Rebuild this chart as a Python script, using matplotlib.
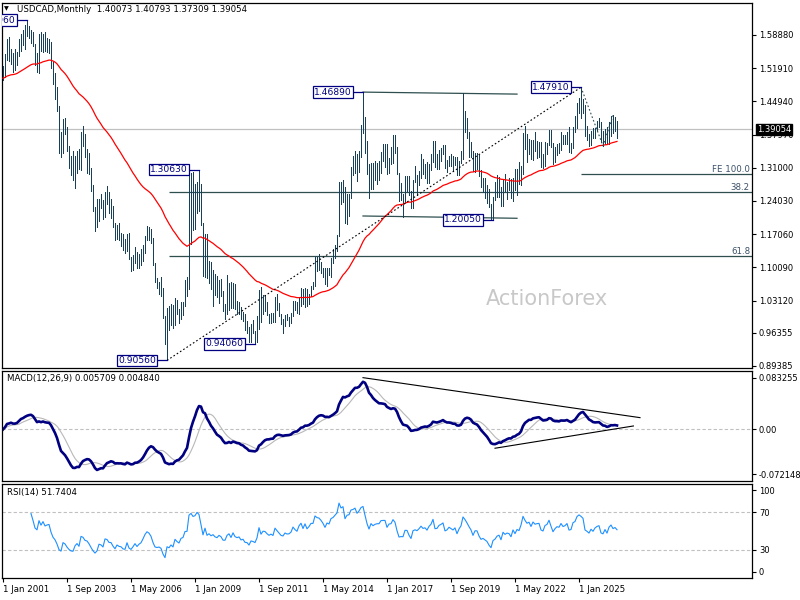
import numpy as np
import pandas as pd
import matplotlib
matplotlib.use("Agg")
import matplotlib.pyplot as plt
import matplotlib.transforms as mtransforms

plt.rcParams['font.family'] = ['DejaVu Sans']
plt.rcParams['font.size'] = 6.2

# USDCAD monthly bars, Jan 2001 onwards (one row per year)
high = [
    1.5230, 1.5480, 1.5800, 1.5850, 1.5590, 1.5500, 1.5600, 1.5530, 1.5800, 1.5900, 1.6000, 1.6100,
    1.6196, 1.6080, 1.6000, 1.5960, 1.5700, 1.5500, 1.5900, 1.5950, 1.5900, 1.5950, 1.5830, 1.5800,
    1.5750, 1.5320, 1.5100, 1.4800, 1.4400, 1.3850, 1.4130, 1.4150, 1.3950, 1.3560, 1.3350, 1.3450,
    1.3350, 1.3450, 1.3500, 1.3860, 1.3970, 1.3800, 1.3500, 1.3400, 1.3100, 1.2730, 1.2280, 1.2440,
    1.2450, 1.2560, 1.2430, 1.2600, 1.2720, 1.2600, 1.2450, 1.2300, 1.1950, 1.1900, 1.1950, 1.1730,
    1.1710, 1.1600, 1.1720, 1.1730, 1.1230, 1.1260, 1.1440, 1.1340, 1.1280, 1.1390, 1.1480, 1.1660,
    1.1880, 1.1850, 1.1820, 1.1620, 1.1100, 1.0780, 1.0700, 1.0800, 1.0580, 0.9990, 1.0150, 1.0190,
    1.0250, 1.0210, 1.0370, 1.0320, 1.0130, 1.0280, 1.0280, 1.0740, 1.0800, 1.2940, 1.2990, 1.3020,
    1.2750, 1.2800, 1.3063, 1.2750, 1.1950, 1.1720, 1.1710, 1.1140, 1.1120, 1.0950, 1.0860, 1.0830,
    1.0740, 1.0760, 1.0520, 1.0250, 1.0850, 1.0680, 1.0700, 1.0690, 1.0670, 1.0300, 1.0280, 1.0170,
    1.0070, 1.0030, 0.9880, 0.9750, 0.9820, 0.9900, 0.9680, 0.9990, 1.0530, 1.0600, 1.0430, 1.0420,
    1.0290, 1.0040, 1.0050, 1.0050, 1.0380, 1.0450, 1.0260, 1.0030, 0.9930, 1.0010, 1.0040, 0.9970,
    1.0060, 1.0300, 1.0300, 1.0280, 1.0390, 1.0580, 1.0550, 1.0580, 1.0560, 1.0460, 1.0620, 1.0700,
    1.1220, 1.1220, 1.1280, 1.1130, 1.1000, 1.0990, 1.0990, 1.0990, 1.1210, 1.1390, 1.1470, 1.1680,
    1.2800, 1.2800, 1.2840, 1.2700, 1.2560, 1.2560, 1.3110, 1.3350, 1.3450, 1.3380, 1.3450, 1.4000,
    1.4689, 1.4160, 1.3660, 1.3180, 1.3190, 1.3200, 1.3250, 1.3190, 1.3250, 1.3430, 1.3590, 1.3600,
    1.3600, 1.3310, 1.3530, 1.3790, 1.3790, 1.3540, 1.3000, 1.2780, 1.2560, 1.2920, 1.2920, 1.2920,
    1.2620, 1.2850, 1.3130, 1.2950, 1.3030, 1.3390, 1.3280, 1.3170, 1.3230, 1.3170, 1.3380, 1.3660,
    1.3660, 1.3380, 1.3470, 1.3520, 1.3570, 1.3570, 1.3270, 1.3350, 1.3380, 1.3340, 1.3330, 1.3320,
    1.3240, 1.3460, 1.4667, 1.4300, 1.4150, 1.3850, 1.3650, 1.3450, 1.3420, 1.3400, 1.3370, 1.3050,
    1.2880, 1.2880, 1.2740, 1.2650, 1.2350, 1.2490, 1.2810, 1.2950, 1.2900, 1.2700, 1.2850, 1.2960,
    1.2810, 1.2880, 1.2870, 1.2880, 1.3080, 1.3080, 1.3220, 1.3140, 1.3840, 1.3980, 1.3810, 1.3700,
    1.3690, 1.3680, 1.3860, 1.3670, 1.3650, 1.3640, 1.3390, 1.3640, 1.3620, 1.3890, 1.3900, 1.3620,
    1.3540, 1.3600, 1.3610, 1.3850, 1.3780, 1.3790, 1.3850, 1.3950, 1.3620, 1.3960, 1.4180, 1.4460,
    1.4560, 1.4791, 1.4540, 1.4415, 1.3980, 1.3800, 1.3880, 1.3930, 1.3930, 1.4080, 1.4140, 1.4070,
    1.3880, 1.3920, 1.3950, 1.4060, 1.4180, 1.4200, 1.4170, 1.40793,
]
low = [
    1.4935, 1.5000, 1.5370, 1.5340, 1.5270, 1.5110, 1.5150, 1.5250, 1.5450, 1.5550, 1.5680, 1.5600,
    1.5870, 1.5820, 1.5730, 1.5650, 1.5260, 1.5110, 1.5100, 1.5550, 1.5530, 1.5550, 1.5540, 1.5500,
    1.5200, 1.4860, 1.4550, 1.4300, 1.3400, 1.3320, 1.3400, 1.3800, 1.3450, 1.3100, 1.2950, 1.2850,
    1.2680, 1.3000, 1.3080, 1.3050, 1.3550, 1.3320, 1.3000, 1.2980, 1.2610, 1.2200, 1.1770, 1.1850,
    1.1980, 1.2250, 1.2020, 1.2070, 1.2350, 1.2150, 1.2050, 1.1850, 1.1590, 1.1600, 1.1580, 1.1450,
    1.1380, 1.1320, 1.1350, 1.1180, 1.0940, 1.0950, 1.1100, 1.1000, 1.0990, 1.1060, 1.1150, 1.1310,
    1.1590, 1.1580, 1.1520, 1.1060, 1.0700, 1.0570, 1.0440, 1.0400, 0.9950, 0.9400, 0.9056, 0.9700,
    0.9800, 0.9730, 0.9790, 1.0030, 0.9840, 0.9930, 1.0000, 1.0190, 1.0400, 1.0550, 1.1500, 1.1800,
    1.1820, 1.2150, 1.2200, 1.1900, 1.0830, 1.0800, 1.0780, 1.0680, 1.0560, 1.0200, 1.0420, 1.0380,
    1.0260, 1.0400, 1.0090, 0.9920, 1.0020, 1.0110, 1.0160, 1.0150, 1.0130, 1.0040, 1.0030, 0.9930,
    0.9880, 0.9690, 0.9630, 0.9440, 0.9450, 0.9630, 0.9406, 0.9450, 0.9720, 0.9870, 1.0030, 1.0100,
    1.0000, 0.9840, 0.9850, 0.9860, 0.9870, 1.0120, 0.9990, 0.9810, 0.9630, 0.9770, 0.9900, 0.9780,
    0.9840, 0.9990, 1.0120, 1.0060, 1.0030, 1.0190, 1.0250, 1.0180, 1.0190, 1.0230, 1.0410, 1.0560,
    1.0620, 1.0940, 1.0950, 1.0900, 1.0810, 1.0660, 1.0620, 1.0840, 1.0810, 1.1100, 1.1200, 1.1350,
    1.1670, 1.2350, 1.2380, 1.1950, 1.1920, 1.2090, 1.2470, 1.2950, 1.3000, 1.2830, 1.3020, 1.3320,
    1.3830, 1.3420, 1.2970, 1.2460, 1.2650, 1.2650, 1.2840, 1.2760, 1.2840, 1.3000, 1.3240, 1.3120,
    1.2970, 1.3000, 1.3170, 1.3200, 1.3410, 1.2960, 1.2410, 1.2420, 1.2061, 1.2390, 1.2620, 1.2530,
    1.2250, 1.2250, 1.2800, 1.2530, 1.2730, 1.2880, 1.2960, 1.2880, 1.2780, 1.2780, 1.3050, 1.3230,
    1.3120, 1.3070, 1.3070, 1.3250, 1.3380, 1.3090, 1.3010, 1.3140, 1.3140, 1.3040, 1.3150, 1.2950,
    1.2950, 1.3190, 1.3280, 1.3850, 1.3720, 1.3320, 1.3330, 1.3040, 1.3010, 1.3080, 1.2930, 1.2700,
    1.2590, 1.2470, 1.2370, 1.2270, 1.2010, 1.2005, 1.2420, 1.2490, 1.2490, 1.2290, 1.2290, 1.2620,
    1.2450, 1.2630, 1.2470, 1.2400, 1.2630, 1.2520, 1.2770, 1.2730, 1.2960, 1.3500, 1.3230, 1.3390,
    1.3280, 1.3260, 1.3460, 1.3300, 1.3320, 1.3120, 1.3090, 1.3140, 1.3380, 1.3570, 1.3540, 1.3180,
    1.3230, 1.3370, 1.3420, 1.3480, 1.3590, 1.3590, 1.3590, 1.3440, 1.3420, 1.3520, 1.3860, 1.3930,
    1.4260, 1.4150, 1.4240, 1.3760, 1.3685, 1.3560, 1.3570, 1.3720, 1.3725, 1.3890, 1.3960, 1.3640,
    1.3560, 1.3590, 1.3610, 1.3600, 1.3770, 1.3840, 1.3880, 1.37309,
]
close = [
    1.5010, 1.5460, 1.5770, 1.5370, 1.5450, 1.5175, 1.5320, 1.5480, 1.5790, 1.5880, 1.5770, 1.5930,
    1.5960, 1.5960, 1.5950, 1.5670, 1.5300, 1.5200, 1.5830, 1.5580, 1.5860, 1.5610, 1.5680, 1.5720,
    1.5270, 1.4900, 1.4700, 1.4320, 1.3700, 1.3500, 1.4000, 1.3860, 1.3500, 1.3200, 1.3000, 1.2960,
    1.3250, 1.3380, 1.3100, 1.3720, 1.3640, 1.3360, 1.3300, 1.3040, 1.2640, 1.2230, 1.1900, 1.2020,
    1.2400, 1.2330, 1.2100, 1.2590, 1.2540, 1.2260, 1.2250, 1.1900, 1.1610, 1.1810, 1.1670, 1.1630,
    1.1420, 1.1370, 1.1680, 1.1180, 1.1030, 1.1160, 1.1310, 1.1050, 1.1160, 1.1230, 1.1420, 1.1650,
    1.1800, 1.1720, 1.1530, 1.1090, 1.0700, 1.0650, 1.0670, 1.0560, 0.9960, 0.9460, 1.0000, 0.9890,
    1.0040, 0.9840, 1.0270, 1.0070, 0.9930, 1.0200, 1.0250, 1.0630, 1.0640, 1.2160, 1.2400, 1.2200,
    1.2300, 1.2730, 1.2600, 1.1910, 1.0920, 1.1630, 1.0790, 1.0960, 1.0710, 1.0820, 1.0570, 1.0470,
    1.0670, 1.0530, 1.0150, 1.0140, 1.0510, 1.0640, 1.0290, 1.0660, 1.0300, 1.0200, 1.0250, 0.9970,
    1.0010, 0.9720, 0.9700, 0.9460, 0.9690, 0.9640, 0.9550, 0.9800, 1.0470, 0.9980, 1.0200, 1.0180,
    1.0020, 0.9900, 0.9970, 0.9880, 1.0340, 1.0180, 1.0030, 0.9870, 0.9830, 0.9990, 0.9930, 0.9940,
    1.0020, 1.0280, 1.0160, 1.0080, 1.0360, 1.0510, 1.0270, 1.0540, 1.0300, 1.0430, 1.0620, 1.0620,
    1.1140, 1.1070, 1.1050, 1.0960, 1.0840, 1.0670, 1.0910, 1.0870, 1.1200, 1.1270, 1.1430, 1.1600,
    1.2710, 1.2500, 1.2670, 1.2070, 1.2440, 1.2490, 1.3080, 1.3150, 1.3340, 1.3080, 1.3350, 1.3840,
    1.4010, 1.3530, 1.2980, 1.2540, 1.3090, 1.2920, 1.3060, 1.3120, 1.3120, 1.3410, 1.3430, 1.3430,
    1.3020, 1.3280, 1.3310, 1.3650, 1.3500, 1.2970, 1.2460, 1.2490, 1.2480, 1.2900, 1.2900, 1.2560,
    1.2300, 1.2820, 1.2890, 1.2830, 1.2960, 1.3140, 1.3010, 1.3050, 1.2920, 1.3150, 1.3290, 1.3640,
    1.3130, 1.3150, 1.3350, 1.3420, 1.3520, 1.3090, 1.3150, 1.3310, 1.3240, 1.3170, 1.3280, 1.2980,
    1.3230, 1.3420, 1.4080, 1.3950, 1.3780, 1.3580, 1.3390, 1.3040, 1.3320, 1.3320, 1.2990, 1.2740,
    1.2790, 1.2680, 1.2570, 1.2290, 1.2070, 1.2400, 1.2470, 1.2620, 1.2670, 1.2380, 1.2770, 1.2640,
    1.2710, 1.2680, 1.2500, 1.2850, 1.2640, 1.2870, 1.2810, 1.3140, 1.3830, 1.3620, 1.3460, 1.3540,
    1.3310, 1.3640, 1.3520, 1.3560, 1.3580, 1.3240, 1.3180, 1.3510, 1.3580, 1.3870, 1.3570, 1.3250,
    1.3440, 1.3570, 1.3540, 1.3780, 1.3630, 1.3680, 1.3810, 1.3490, 1.3520, 1.3930, 1.4010, 1.4380,
    1.4520, 1.4460, 1.4380, 1.3820, 1.3740, 1.3640, 1.3850, 1.3740, 1.3920, 1.4010, 1.4050, 1.3700,
    1.3650, 1.3860, 1.3680, 1.3990, 1.4120, 1.3950, 1.4007, 1.39054,
]

date_labels = ["1 Jan 2001", "1 Sep 2003", "1 May 2006", "1 Jan 2009", "1 Sep 2011",
               "1 May 2014", "1 Jan 2017", "1 Sep 2019", "1 May 2022", "1 Jan 2025"]
date_pos = [0, 32, 64, 96, 128, 160, 192, 224, 256, 288]

price_ticks = [1.58880, 1.51910, 1.44940, 1.37970, 1.31000, 1.24030,
               1.17060, 1.10090, 1.03120, 0.96355, 0.89385]

ma_seed = 1.498          # red line value at the first bar
last_price = 1.39054

# swing points tagged on the chart (bar index, which side)
swings = [(12, "high"), (98, "high"), (82, "low"), (126, "low"),
          (180, "high"), (245, "low"), (289, "high")]
# fibonacci expansion points A, B, C
fe_pts = [(289, "high"), (300, "low"), (305, "high")]

navy = "#000080"
slate = "#2f4f4f"
barcol = "#17405a"

n = len(close)
idx = np.arange(n)
hi = np.array(high)
lo = np.array(low)
cl = pd.Series(close)

# 55 EMA
ma = [ma_seed]
for v in close[1:]:
    ma.append(ma[-1] + (v - ma[-1]) * 2.0 / 56)

# MACD 12,26,9 (signal = SMA)
macd = cl.ewm(span=12, adjust=False).mean() - cl.ewm(span=26, adjust=False).mean()
signal = macd.rolling(9, min_periods=1).mean()

# RSI 14 (Wilder)
diff = np.diff(close)
gain = np.where(diff > 0, diff, 0.0)
loss = np.where(diff < 0, -diff, 0.0)
rsi = np.full(n, np.nan)
ag = gain[:14].mean()
al = loss[:14].mean()
rsi[14] = 100 - 100 / (1 + ag / al)
for k in range(15, n):
    ag = (ag * 13 + gain[k - 1]) / 14
    al = (al * 13 + loss[k - 1]) / 14
    rsi[k] = 100 - 100 / (1 + ag / al)

fig = plt.figure(figsize=(8, 6), dpi=100)
W, H = 800.0, 600.0
def box(top, bottom):
    return [2 / W, 1 - bottom / H, 750 / W, (bottom - top) / H]

ax1 = fig.add_axes(box(3, 368))
ax2 = fig.add_axes(box(371, 481))
ax3 = fig.add_axes(box(484, 578))

xmin, xmax = -0.5, 374.5
for ax in (ax1, ax2, ax3):
    ax.set_xlim(xmin, xmax)
    ax.yaxis.tick_right()
    ax.tick_params(axis="y", direction="out", length=3, width=0.8, pad=2, labelsize=6.0)
    for s in ax.spines.values():
        s.set_linewidth(0.9)
        s.set_color("black")
    ax.set_xticks([])

# ---- price panel
ax1.set_ylim(0.88965, 1.65597)
ax1.set_yticks(price_ticks)
ax1.set_yticklabels(["%.5f" % t for t in price_ticks])
ax1.axhline(last_price, color="#c0c0c0", lw=0.9, zorder=1)
ax1.text(0.7267, 0.189, "ActionForex", transform=ax1.transAxes, ha="center", va="center",
         fontsize=15, color="#c8c8c8", zorder=0)

ax1.vlines(idx, lo, hi, color=barcol, lw=0.7, zorder=3, antialiased=False)
ax1.plot(idx, ma, color="red", lw=0.9, zorder=4)

# fibonacci retracement of the 0.9056 -> 1.4791 rise
i_lo, i_hi = 82, 289
p_lo, p_hi = lo[i_lo], hi[i_hi]
for r in (0.382, 0.618):
    lvl = p_hi - r * (p_hi - p_lo)
    ax1.hlines(lvl, i_lo + 1, xmax, color=slate, lw=0.9, zorder=2)
    ax1.text(373.5, lvl, "%.1f" % (r * 100), ha="right", va="bottom", color="#3a5068", fontsize=6.2)

# fibonacci expansion
pa = hi[fe_pts[0][0]]
pb = lo[fe_pts[1][0]]
pc = hi[fe_pts[2][0]]
fe = pc - (pa - pb)
ax1.hlines(fe, fe_pts[0][0], xmax, color=slate, lw=0.9, zorder=2)
ax1.text(373.5, fe, "FE 100.0", ha="right", va="bottom", color="#3a5068", fontsize=6.2)
ax1.plot([p[0] for p in fe_pts], [pa, pb, pc], color=slate, lw=0.8, ls=(0, (1.5, 2)), zorder=5)

# long rising trend line from the 2007 low to the 2025 high
ax1.plot([i_lo, i_hi], [p_lo, p_hi], color="black", lw=0.8, ls=(0, (1.5, 2)), zorder=5)

# range lines 2016-2021
ax1.plot([180, 257], [1.4689, 1.4647], color=slate, lw=0.9, zorder=2)
ax1.plot([180, 257], [1.2088, 1.2040], color=slate, lw=0.9, zorder=2)

for i, side in swings:
    p = hi[i] if side == "high" else lo[i]
    ax1.plot([i - 5, i], [p, p], color=navy, lw=0.9, zorder=6)
    ax1.text(i - 5.6, p, "%.5f" % p, ha="right", va="center", color=navy, fontsize=6.6,
             zorder=7, clip_on=True,
             bbox=dict(boxstyle="square,pad=0.15", fc="white", ec=navy, lw=0.9))

trans = mtransforms.blended_transform_factory(ax1.transAxes, ax1.transData)
ax1.text(1.0067, last_price, "%.5f" % last_price, transform=trans, ha="left", va="center",
         color="white", fontsize=6.0, zorder=10,
         bbox=dict(boxstyle="square,pad=0.12", fc="black", ec="black"))

# ---- MACD panel
ax2.set_ylim(-0.0829, 0.0940)
ax2.set_yticks([0.083255, 0.0, -0.072148])
ax2.set_yticklabels(["0.083255", "0.00", "-0.072148"])
ax2.axhline(0, color="#c0c0c0", lw=0.8, ls=(0, (3, 2)))
ax2.plot(idx, signal, color="#b8b8b8", lw=0.8)
ax2.plot(idx, macd, color=navy, lw=1.9)
ax2.plot([180, 318.5], [0.0833, 0.0190], color="black", lw=0.8)
ax2.plot([246, 315.2], [-0.0302, 0.0056], color="black", lw=0.8)

# ---- RSI panel
ax3.set_ylim(0, 100)
ax3.set_yticks([93.6, 70, 30, 6.4])
ax3.set_yticklabels(["100", "70", "30", "0"])
for lv in (70, 30):
    ax3.axhline(lv, color="#c0c0c0", lw=0.8, ls=(0, (3, 2)))
ax3.plot(idx, rsi, color="#1e90ff", lw=0.8)

ax3.set_xticks(date_pos)
ax3.set_xticklabels(date_labels, ha="left")
ax3.tick_params(axis="x", direction="out", length=3, width=0.8, pad=2, labelsize=6.2)

# ---- header texts
fig.text(4 / W, 1 - 9 / H, "\u25bc", fontsize=4.5, va="center", ha="left")
fig.text(17 / W, 1 - 9 / H, "USDCAD,Monthly  1.40073 1.40793 1.37309 1.39054", va="center", ha="left")
fig.text(7 / W, 1 - 379 / H, "MACD(12,26,9) 0.005709 0.004840", va="center", ha="left")
fig.text(7 / W, 1 - 493 / H, "RSI(14) 51.7404", va="center", ha="left")

fig.savefig("out.png", dpi=100)
